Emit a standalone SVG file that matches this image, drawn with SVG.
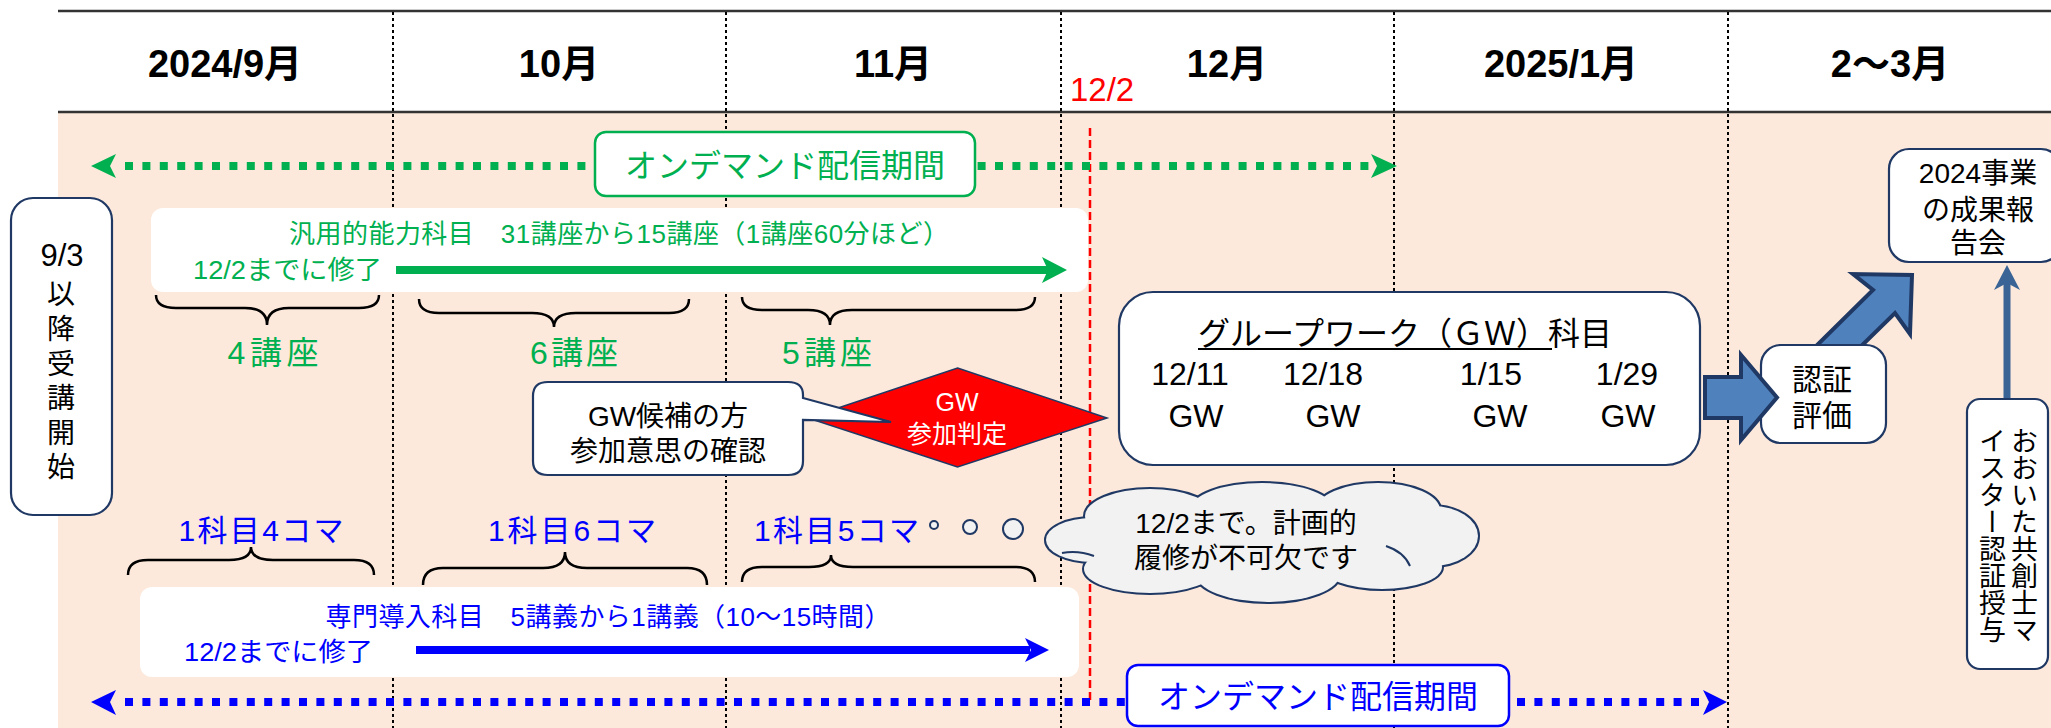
<svg xmlns="http://www.w3.org/2000/svg" width="2051" height="728" viewBox="0 0 2051 728">
<defs>
<style>
text{font-family:"Liberation Sans","Noto Sans CJK JP",sans-serif;}
.hd{font-size:38px;font-weight:bold;fill:#000;text-anchor:middle;}
.div{stroke:#000;stroke-width:2;stroke-dasharray:3 3;fill:none;}
.nav{stroke:#1F3864;stroke-width:2.2;fill:#fff;}
.g{fill:#00B050;}
.b{fill:#0000FF;}
.k{fill:#000;}
.mid{text-anchor:middle;}
.brace{fill:none;stroke:#000;stroke-width:2.5;}
.blk{fill:#4F81BD;stroke:#1F3864;stroke-width:4;stroke-linejoin:miter;}
.cl{fill:#F2F2F2;stroke:#1F3864;stroke-width:4;}
.clf{fill:#F2F2F2;}
.inner{fill:none;stroke:#1F3864;stroke-width:2;}
</style>
</defs>
<!-- background -->
<rect x="0" y="0" width="2051" height="728" fill="#fff"/>
<rect x="58" y="112" width="1993" height="616" fill="#FCE9DB"/>
<g id="header">
<line x1="58" y1="11" x2="2051" y2="11" stroke="#333" stroke-width="2.5"/>
<line x1="58" y1="112" x2="2051" y2="112" stroke="#333" stroke-width="2.5"/>
<text class="hd" x="225" y="77">2024/9月</text>
<text class="hd" x="559" y="77">10月</text>
<text class="hd" x="893" y="77">11月</text>
<text class="hd" x="1227" y="77">12月</text>
<text class="hd" x="1561" y="77">2025/1月</text>
<text class="hd" x="1890" y="77">2〜3月</text>
</g>
<g id="dividers">
<line class="div" x1="393" y1="12" x2="393" y2="728"/>
<line class="div" x1="726" y1="12" x2="726" y2="728"/>
<line class="div" x1="1061" y1="12" x2="1061" y2="728"/>
<line class="div" x1="1394" y1="12" x2="1394" y2="728"/>
<line class="div" x1="1728" y1="12" x2="1728" y2="728"/>
</g>
<g id="deadline">
<text x="1070" y="101" font-size="33" fill="#FF0000">12/2</text>
<line x1="1090" y1="128" x2="1090" y2="700" stroke="#FF0000" stroke-width="2.5" stroke-dasharray="8 4"/>
</g>
<g id="connectors">
<!-- green on-demand period -->
<line x1="125" y1="166" x2="1371" y2="166" stroke="#00B050" stroke-width="8" stroke-dasharray="8 9.4"/>
<polygon points="91,166 116,154 110,166 116,178" fill="#00B050"/>
<polygon points="1397,166 1371,154 1377,166 1371,178" fill="#00B050"/>
<!-- blue on-demand period -->
<line x1="125" y1="702" x2="1704" y2="702" stroke="#0000FF" stroke-width="8" stroke-dasharray="8 9.4"/>
<polygon points="91,702 116,690 110,702 116,715" fill="#0000FF"/>
<polygon points="1727,702 1703,690 1709,702 1703,715" fill="#0000FF"/>
</g>
<g id="ondemand-green">
<rect x="595" y="132" width="380" height="64" rx="11" fill="#fff" stroke="#00B050" stroke-width="2.5"/>
<text class="g mid" x="785" y="177" font-size="32">オンデマンド配信期間</text>
</g>
<g id="ondemand-blue">
<rect x="1127" y="665" width="382" height="61" rx="11" fill="#fff" stroke="#0000FF" stroke-width="2.5"/>
<text class="b mid" x="1318" y="708" font-size="32">オンデマンド配信期間</text>
</g>
<g id="start-box">
<rect class="nav" x="11" y="198" width="101" height="317" rx="22"/>
<text class="k mid" x="62" y="266" font-size="31">9/3</text>
<text class="k mid" x="61" y="304" font-size="28">以</text>
<text class="k mid" x="61" y="339" font-size="28">降</text>
<text class="k mid" x="61" y="374" font-size="28">受</text>
<text class="k mid" x="61" y="408" font-size="28">講</text>
<text class="k mid" x="61" y="443" font-size="28">開</text>
<text class="k mid" x="61" y="477" font-size="28">始</text>
</g>
<g id="general-course">
<rect x="151" y="208" width="937" height="84" rx="12" fill="#fff"/>
<text class="g mid" x="619" y="243" font-size="26" textLength="660" lengthAdjust="spacing">汎用的能力科目　31講座から15講座（1講座60分ほど）</text>
<text class="g" x="193" y="279" font-size="26" textLength="189" lengthAdjust="spacingAndGlyphs">12/2までに修了</text>
<line x1="396" y1="270" x2="1048" y2="270" stroke="#00B050" stroke-width="8"/>
<polygon points="1067,270 1042,257 1048,270 1042,283" fill="#00B050"/>
</g>
<g id="general-braces">
<path class="brace" d="M156,295 Q156,308 176,308 L245,308 Q267,308 267,325 Q267,308 289,308 L359,308 Q379,308 379,295"/>
<path class="brace" d="M419,299 Q419,313 439,313 L532,313 Q554,313 554,327 Q554,313 576,313 L669,313 Q689,313 689,299"/>
<path class="brace" d="M742,297 Q742,310 762,310 L808,310 Q830,310 830,325 Q830,310 852,310 L1015,310 Q1035,310 1035,297"/>
<text class="g mid" x="273" y="364" font-size="32" textLength="91" lengthAdjust="spacing">4講座</text>
<text class="g mid" x="574" y="364" font-size="32" textLength="88" lengthAdjust="spacing">6講座</text>
<text class="g mid" x="827" y="364" font-size="32" textLength="90" lengthAdjust="spacing">5講座</text>
</g>
<g id="gw-judge">
<polygon points="957.5,368 1107,418 957.5,467 808,418" fill="#FF0000" stroke="#1F3864" stroke-width="1.5"/>
<text class="mid" x="957" y="411" font-size="25" fill="#fff">GW</text>
<text class="mid" x="957" y="443" font-size="25" fill="#fff">参加判定</text>
</g>
<g id="gw-callout">
<path class="nav" d="M548,382 H788 Q803,382 803,395 V398 L891,422 L803,420 V461 Q803,475 788,475 H548 Q533,475 533,461 V396 Q533,382 548,382 Z"/>
<text class="k mid" x="668" y="426" font-size="28">GW候補の方</text>
<text class="k mid" x="668" y="461" font-size="28">参加意思の確認</text>
</g>
<g id="specialty-labels">
<text class="b mid" x="261" y="541" font-size="30" textLength="165" lengthAdjust="spacing">1科目4コマ</text>
<text class="b mid" x="572" y="541" font-size="30" textLength="168" lengthAdjust="spacing">1科目6コマ</text>
<text class="b" x="754" y="541" font-size="30" textLength="165" lengthAdjust="spacing">1科目5コマ</text>
<path class="brace" d="M128,575 Q128,560 148,560 L229,560 Q251,560 251,547 Q251,560 273,560 L354,560 Q374,560 374,575"/>
<path class="brace" d="M423,585 Q423,568 443,568 L543,568 Q565,568 565,552 Q565,568 587,568 L687,568 Q707,568 707,585"/>
<path class="brace" d="M742,582 Q742,567 762,567 L809,567 Q831,567 831,555 Q831,567 853,567 L1015,567 Q1035,567 1035,582"/>
</g>
<g id="specialty-course">
<rect x="140" y="587" width="939" height="90" rx="12" fill="#fff"/>
<text class="b mid" x="608" y="626" font-size="26" textLength="565" lengthAdjust="spacing">専門導入科目　5講義から1講義（10〜15時間）</text>
<text class="b" x="184" y="661" font-size="26" textLength="189" lengthAdjust="spacingAndGlyphs">12/2までに修了</text>
<line x1="416" y1="650" x2="1030" y2="650" stroke="#0000FF" stroke-width="8"/>
<polygon points="1049,650 1025,638 1031,650 1025,662" fill="#0000FF"/>
</g>
<g id="cloud">
<circle cx="934" cy="525" r="4" class="clf" stroke="#1F3864" stroke-width="2"/>
<circle cx="970" cy="527" r="7" class="clf" stroke="#1F3864" stroke-width="2"/>
<circle cx="1013" cy="529" r="10" class="clf" stroke="#1F3864" stroke-width="2"/>
<ellipse class="cl" cx="1092" cy="540" rx="46" ry="22"/>
<ellipse class="cl" cx="1150" cy="516" rx="65" ry="27"/>
<ellipse class="cl" cx="1262" cy="510" rx="72" ry="27"/>
<ellipse class="cl" cx="1378" cy="510" rx="62" ry="27"/>
<ellipse class="cl" cx="1432" cy="536" rx="46" ry="30"/>
<ellipse class="cl" cx="1382" cy="567" rx="60" ry="22"/>
<ellipse class="cl" cx="1268" cy="574" rx="72" ry="28"/>
<ellipse class="cl" cx="1150" cy="569" rx="66" ry="24"/>
<ellipse class="clf" cx="1092" cy="540" rx="46" ry="22"/>
<ellipse class="clf" cx="1150" cy="516" rx="65" ry="27"/>
<ellipse class="clf" cx="1262" cy="510" rx="72" ry="27"/>
<ellipse class="clf" cx="1378" cy="510" rx="62" ry="27"/>
<ellipse class="clf" cx="1432" cy="536" rx="46" ry="30"/>
<ellipse class="clf" cx="1382" cy="567" rx="60" ry="22"/>
<ellipse class="clf" cx="1268" cy="574" rx="72" ry="28"/>
<ellipse class="clf" cx="1150" cy="569" rx="66" ry="24"/>
<ellipse class="clf" cx="1262" cy="542" rx="175" ry="38"/>
<path class="inner" d="M1062,553 Q1078,550 1094,556"/>
<path class="inner" d="M1386,546 Q1404,552 1410,566"/>
<text class="k mid" x="1246" y="533" font-size="28">12/2まで。計画的</text>
<text class="k mid" x="1246" y="568" font-size="28">履修が不可欠です</text>
</g>
<g id="gw-course">
<rect class="nav" x="1119" y="292" width="581" height="173" rx="34"/>
<text class="k" x="1198" y="345" font-size="32">グループワーク（ＧＷ）科目</text>
<line x1="1198" y1="349" x2="1552" y2="349" stroke="#000" stroke-width="2.2"/>
<text class="k mid" x="1190" y="385" font-size="32">12/11</text>
<text class="k mid" x="1323" y="385" font-size="32">12/18</text>
<text class="k mid" x="1491" y="385" font-size="32">1/15</text>
<text class="k mid" x="1627" y="385" font-size="32">1/29</text>
<text class="k mid" x="1196" y="427" font-size="32">GW</text>
<text class="k mid" x="1333" y="427" font-size="32">GW</text>
<text class="k mid" x="1500" y="427" font-size="32">GW</text>
<text class="k mid" x="1628" y="427" font-size="32">GW</text>
</g>
<g id="arrow-up">
<polygon class="blk" points="1800,362 1873,290 1853,274 1912,275 1910,334 1895,313 1845,362"/>
</g>
<g id="certify-box">
<rect class="nav" x="1761" y="345" width="125" height="98" rx="20"/>
<text class="k mid" x="1822" y="390" font-size="30">認証</text>
<text class="k mid" x="1822" y="426" font-size="30">評価</text>
</g>
<g id="arrow-right">
<polygon class="blk" points="1705,377 1741,377 1741,355 1777,397.5 1741,440 1741,418 1705,418"/>
</g>
<g id="report-box">
<rect class="nav" x="1889" y="149" width="172" height="113" rx="20"/>
<text class="k mid" x="1978" y="183" font-size="28">2024事業</text>
<text class="k mid" x="1978" y="220" font-size="28">の成果報</text>
<text class="k mid" x="1978" y="253" font-size="28">告会</text>
</g>
<g id="arrow-vertical">
<line x1="2007" y1="282" x2="2007" y2="400" stroke="#3A6496" stroke-width="7"/>
<polygon points="2007,265 2020,290 2007,283 1994,290" fill="#3A6496"/>
</g>
<g id="meister-box">
<rect class="nav" x="1967" y="399" width="81" height="270" rx="13"/>
<text class="k" x="2022" y="427" font-size="27" style="writing-mode:vertical-rl">おおいた共創士マ</text>
<text class="k" x="1990" y="427" font-size="27" style="writing-mode:vertical-rl">イスター認証授与</text>
</g>
</svg>
